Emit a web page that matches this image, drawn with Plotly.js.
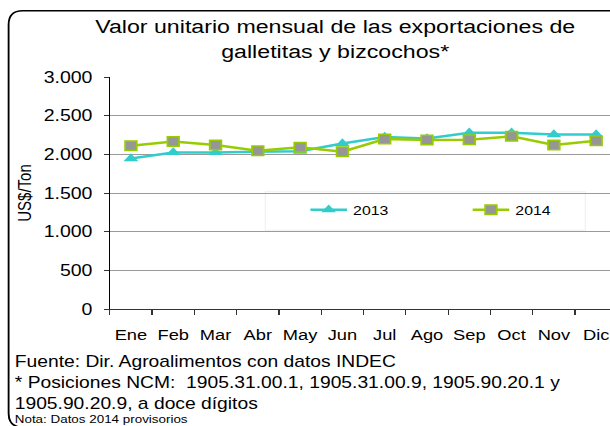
<!DOCTYPE html>
<html>
<head>
<meta charset="utf-8">
<script src="https://cdn.plot.ly/plotly-3.0.1.min.js"></script>
<style>
  html, body { margin: 0; padding: 0; background: #ffffff; overflow: hidden; width: 610px; height: 426px; }
  #chart { transform: scaleX(1.22); transform-origin: 0 0; }
</style>
</head>
<body>
<div id="chart"></div>
<script>
// ---- data ----
const months = ["Ene", "Feb", "Mar", "Abr", "May", "Jun", "Jul", "Ago", "Sep", "Oct", "Nov", "Dic"];
const values2013 = [1945, 2025, 2025, 2030, 2040, 2140, 2225, 2205, 2280, 2280, 2255, 2255];
const values2014 = [2110, 2165, 2120, 2047, 2090, 2035, 2198, 2185, 2190, 2233, 2121, 2177];
const yTicks = [0, 500, 1000, 1500, 2000, 2500, 3000];
const titleText = "Valor unitario mensual de las exportaciones de<br>galletitas y bizcochos*";
const yTitle = "US$/Ton";
const footLines = [
  "Fuente: Dir. Agroalimentos con datos INDEC",
  "* Posiciones NCM:  1905.31.00.1, 1905.31.00.9, 1905.90.20.1 y",
  "1905.90.20.9, a doce dígitos"
];
const noteText = "Nota: Datos 2014 provisorios";

// ---- geometry ----
const S = 1.22;
const W = 570, H = 440;
const ML = 89.75, MT = 77, PW = 416, PH = 232.5;
const MR = W - ML - PW, MB = H - MT - PH;
const px = xr => ((xr / S) - ML) / PW;
const py = yr => (MT + PH - yr) / PH;

const FONT = "Liberation Sans, Arial, sans-serif";

const traces = [
  {
    x: months, y: values2013, name: "2013", type: "scatter", mode: "lines+markers",
    line: { color: "#33CCCC", width: 2.5 },
    marker: { symbol: "triangle-up", size: 10.5, color: "#33CCCC" }
  },
  {
    x: months, y: values2014, name: "2014", type: "scatter", mode: "lines+markers",
    line: { color: "#99CC00", width: 2.5 },
    marker: { symbol: "square", size: 9.5, color: "#969696", line: { color: "#99CC00", width: 1.5 } }
  }
];

// rounded outer border
const bl = px(8.3), bt = py(10.7), bb = py(428), br = px(690);
const rx = 14 / S / PW, ry = 14 / PH;
const borderPath = `M ${br},${bt} L ${bl + rx},${bt} Q ${bl},${bt} ${bl},${bt - ry} L ${bl},${bb + ry} Q ${bl},${bb} ${bl + rx},${bb} L ${br},${bb}`;

const annotations = footLines.map((t, i) => ({
  text: t, xref: "paper", yref: "paper", x: px(12), y: py([368, 389, 410][i] - 5.5),
  xanchor: "left", yanchor: "middle", showarrow: false,
  font: { family: FONT, size: 15.8, color: "#000" }
}));
annotations.push({
  text: noteText, xref: "paper", yref: "paper", x: px(12), y: py(419.5),
  xanchor: "left", yanchor: "middle", showarrow: false,
  font: { family: FONT, size: 11, color: "#000" }
});

const layout = {
  width: W, height: H,
  margin: { l: ML, r: MR, t: MT, b: MB, pad: 0, autoexpand: false },
  paper_bgcolor: "#ffffff", plot_bgcolor: "#ffffff",
  font: { family: FONT, color: "#000" },
  showlegend: true,
  title: {
    text: titleText, xref: "paper", x: px(334.9), xanchor: "center",
    yref: "container", y: 1 - 33 / H, yanchor: "top",
    font: { family: FONT, size: 19, color: "#000" }
  },
  xaxis: {
    type: "category", range: [-0.5, 11.5], fixedrange: true, automargin: false,
    showline: true, linecolor: "#333333", linewidth: 1,
    ticks: "outside", tickson: "boundaries", ticklen: 5, tickcolor: "#333333",
    showgrid: false, zeroline: false, tickangle: 0,
    tickfont: { family: FONT, size: 15, color: "#000" },
    ticklabelstandoff: 12
  },
  yaxis: {
    range: [0, 3000], tickvals: yTicks, tickformat: ",d", fixedrange: true, automargin: false,
    showline: true, linecolor: "#000", linewidth: 1,
    ticks: "outside", ticklen: 4, tickcolor: "#333333",
    showgrid: true, gridcolor: "#9a9a9a", gridwidth: 1, zeroline: false,
    tickfont: { family: FONT, size: 16, color: "#000" },
    ticklabelstandoff: 6,
    title: { text: yTitle, font: { family: FONT, size: 15, color: "#000" }, standoff: 5.5 }
  },
  separators: ",.",
  legend: {
    orientation: "h", xref: "paper", yref: "paper",
    x: px(304), xanchor: "left", y: py(210), yanchor: "middle",
    bgcolor: "rgba(0,0,0,0)", borderwidth: 0,
    entrywidth: 88, entrywidthmode: "pixels",
    font: { family: FONT, size: 13, color: "#000" }
  },
  shapes: [
    { type: "rect", xref: "paper", yref: "paper", x0: px(265), x1: px(585), y0: py(230.5), y1: py(192),
      fillcolor: "#ffffff", line: { color: "#f0f0f0", width: 1 }, layer: "between" },
    { type: "path", xref: "paper", yref: "paper", path: borderPath,
      line: { color: "#000", width: 1.5 }, layer: "above" }
  ],
  annotations: annotations
};

Plotly.newPlot("chart", traces, layout, { displayModeBar: false, staticPlot: true });
</script>
</body>
</html>
